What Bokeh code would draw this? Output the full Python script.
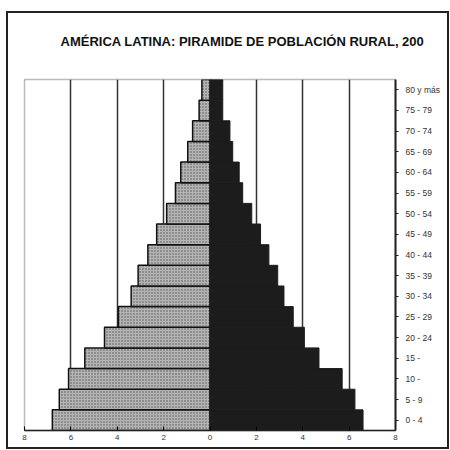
from bokeh.plotting import figure
from bokeh.models import FixedTicker, LinearAxis, CategoricalAxis, Range1d, Title, InlineStyleSheet
from bokeh.embed import file_html
from bokeh.resources import INLINE

# Data (bottom to top)
age_groups = ["0 - 4", "5 - 9", "10 -", "15 -", "20 - 24", "25 - 29", "30 - 34", "35 - 39",
              "40 - 44", "45 - 49", "50 - 54", "55 - 59", "60 - 64", "65 - 69", "70 - 74",
              "75 - 79", "80 y más"]
left_values = [6.8, 6.5, 6.1, 5.4, 4.55, 3.95, 3.4, 3.1, 2.68, 2.3, 1.87, 1.49, 1.26, 0.96, 0.75, 0.47, 0.35]
right_values = [6.6, 6.25, 5.7, 4.7, 4.07, 3.59, 3.19, 2.92, 2.54, 2.18, 1.8, 1.41, 1.26, 0.98, 0.86, 0.55, 0.55]
x_ticks = [-8, -6, -4, -2, 0, 2, 4, 6, 8]
grid_ticks = [-6, -4, -2, 2, 4, 6]
title_text = "AMÉRICA LATINA: PIRAMIDE DE POBLACIÓN RURAL, 200"

p = figure(width=450, height=450, y_range=age_groups, x_range=Range1d(-8, 8),
           output_backend="svg", toolbar_location=None,
           min_border_left=24, min_border_right=55, min_border_top=79, min_border_bottom=20,
           x_axis_location=None, y_axis_location=None)
p.background_fill_color = "white"
p.border_fill_color = "white"
p.outline_line_color = "#777777"
p.outline_line_dash = "1 1"
p.outline_line_width = 1.5

p.xgrid.ticker = FixedTicker(ticks=grid_ticks)
p.xgrid.grid_line_color = "#333333"
p.xgrid.grid_line_width = 1.5
p.ygrid.grid_line_color = None

p.hbar(y=age_groups, left=[-v for v in left_values], right=0, height=1.0,
       fill_color="#b4b4b4", hatch_pattern=".", hatch_color="#555555", hatch_scale=3, hatch_weight=1,
       line_color="#111111", line_width=1.5)
p.hbar(y=age_groups, left=0, right=right_values, height=1.0,
       fill_color="#1c1c1c", line_color="#1c1c1c", line_width=1)

xaxis = LinearAxis(ticker=FixedTicker(ticks=x_ticks),
                   major_label_overrides={t: str(abs(t)) for t in x_ticks})
xaxis.axis_line_color = "#222222"
xaxis.axis_line_width = 1.5
xaxis.major_tick_in = 4
xaxis.major_tick_out = 0
xaxis.minor_tick_line_color = None
xaxis.major_label_text_font = "Liberation Sans"
xaxis.major_label_text_font_size = "8px"
xaxis.major_label_text_color = "#333333"
xaxis.major_label_standoff = 4
p.add_layout(xaxis, "below")

yaxis = CategoricalAxis()
yaxis.axis_line_color = "#222222"
yaxis.axis_line_width = 2
yaxis.major_tick_out = 3
yaxis.major_tick_in = 0
yaxis.major_tick_line_color = "#222222"
yaxis.major_label_text_font = "Liberation Sans"
yaxis.major_label_text_font_size = "8.5px"
yaxis.major_label_text_color = "#333333"
yaxis.major_label_standoff = 7
p.add_layout(yaxis, "right")

title = Title(text=title_text, align="left", offset=36, standoff=62,
              text_font="Liberation Sans", text_font_style="bold", text_font_size="13px",
              text_color="#111111")
p.add_layout(title, "above")

p.stylesheets = [InlineStyleSheet(css=":host { position: relative; } :host::after { content: ''; position: absolute; left: 6px; top: 11px; right: 1px; bottom: 1px; border: 2px solid #222; pointer-events: none; }")]

open("out.html", "w").write(file_html(p, INLINE))
